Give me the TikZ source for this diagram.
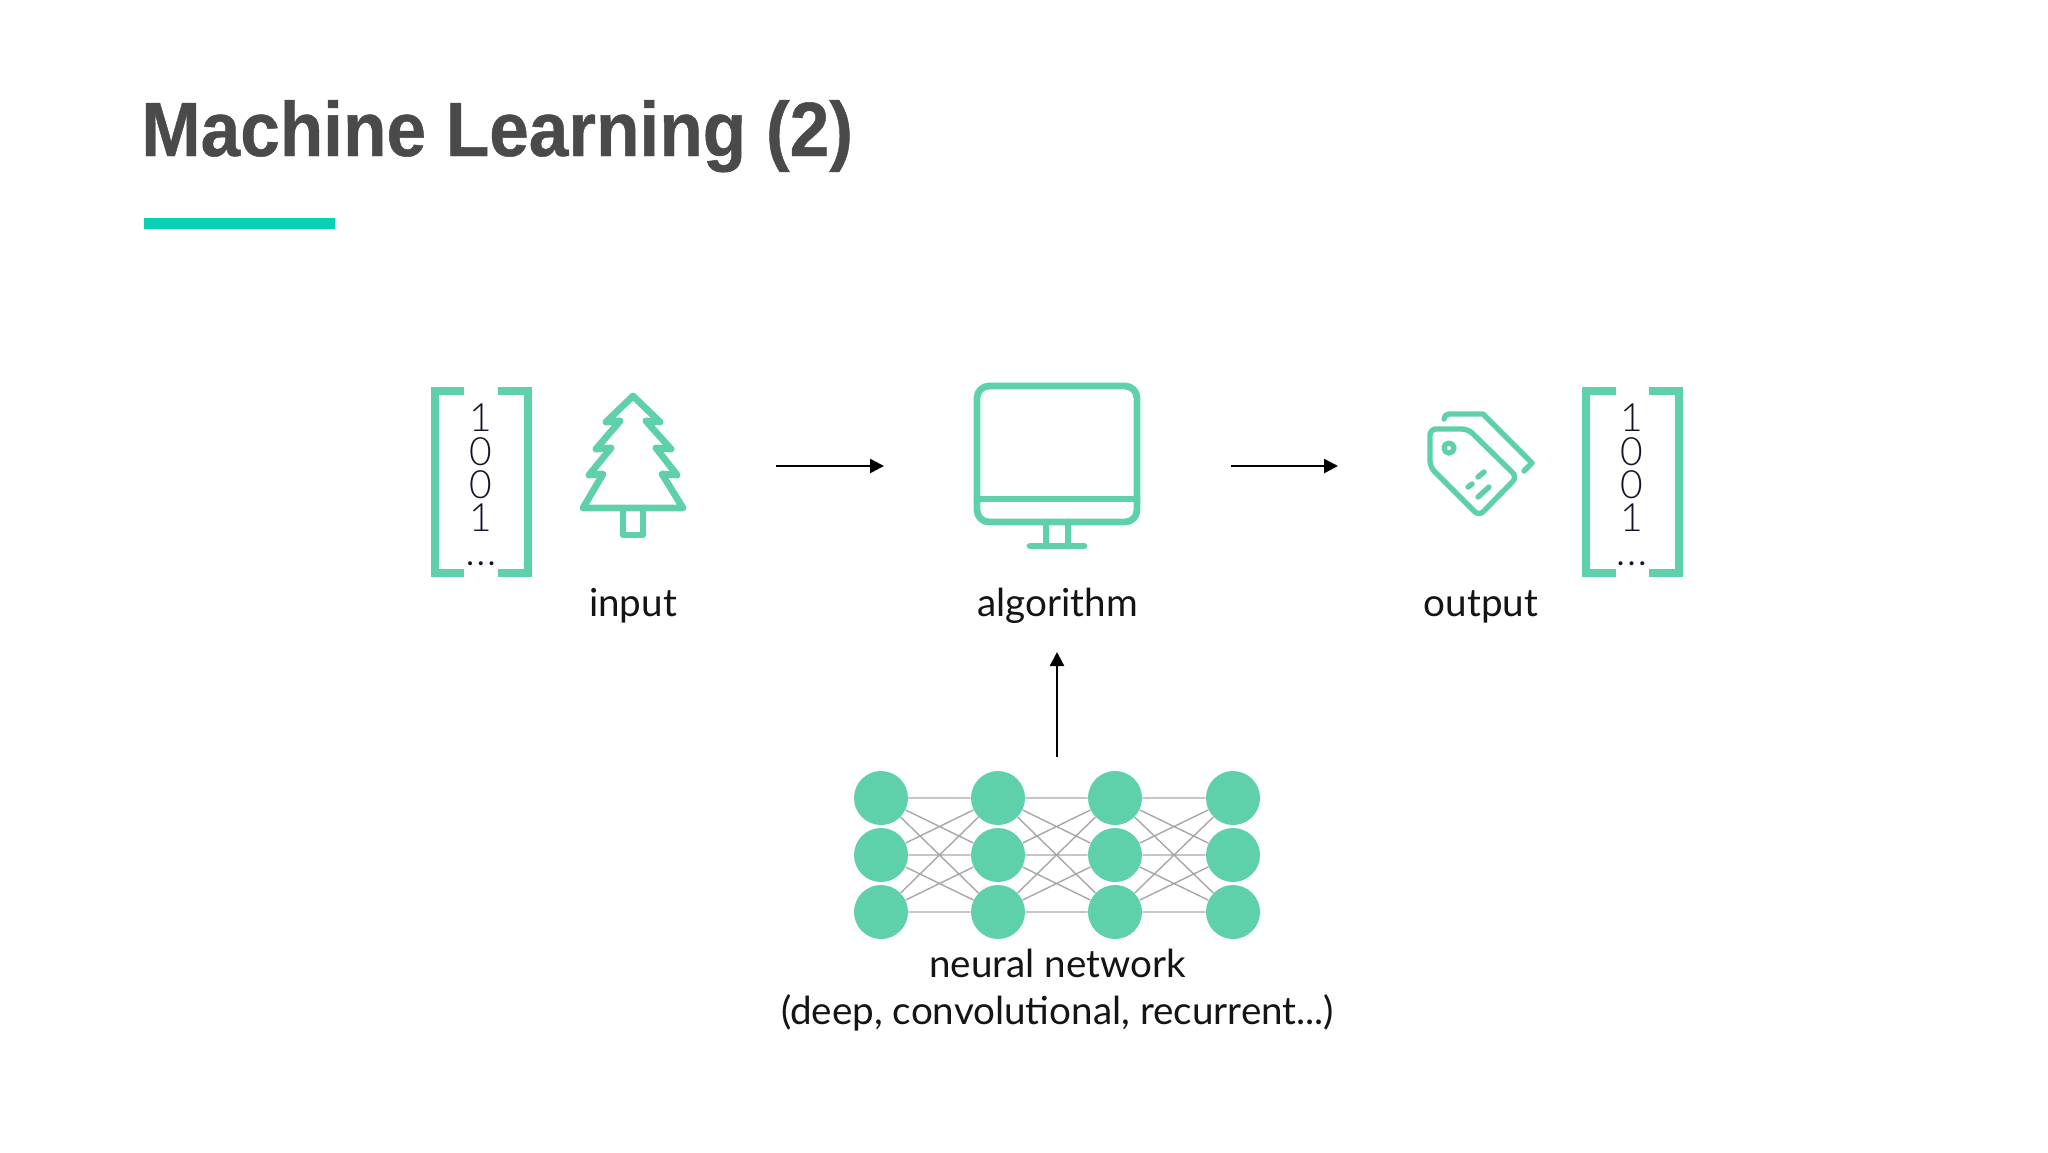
\documentclass[tikz,border=0pt]{standalone}
\usepackage{fontspec}
\setmainfont{Lato}
\newfontfamily\titlefont[FakeStretch=0.924,FakeBold=0.6]{Liberation Sans Bold}
\newfontfamily\digitfont{Lato Light}
\usetikzlibrary{arrows.meta}
\tikzset{
    icon/.style={draw={rgb, 255:red, 94; green, 208; blue, 170}, line width=3.4pt, line join=round, line cap=round},
    thinicon/.style={icon, line width=2.7pt},
    bracket/.style={draw={rgb, 255:red, 94; green, 208; blue, 170}, line width=4pt, line join=miter},
    neuron/.style={circle, fill={rgb, 255:red, 94; green, 208; blue, 170}, minimum size=27pt, inner sep=0pt},
    netedge/.style={draw={rgb, 255:red, 170; green, 166; blue, 168}, line width=0.7pt},
    flow/.style={draw=black, line width=1.2pt, -{Triangle[length=7pt,width=7pt]}},
    label/.style={font=\fontsize{19.3}{22}\selectfont, text={rgb, 255:red, 20; green, 20; blue, 20}, anchor=base},
    digits/.style={font=\digitfont\fontsize{19.5}{16.7}\selectfont, align=center, text={rgb, 255:red, 20; green, 20; blue, 40}, inner sep=0pt},
    dotrow/.style={font=\fontsize{16}{16}\selectfont, text={rgb, 255:red, 20; green, 20; blue, 40}, inner sep=0pt, anchor=base},
}
\begin{document}
\begin{tikzpicture}[x=0.5pt,y=0.5pt,yscale=-1,xscale=1]
    \useasboundingbox (0,0) rectangle (2048,1152);
    % title
    \node (title) [anchor=base west, inner sep=0pt, font=\titlefont\fontsize{38.5}{40}\selectfont, text={rgb, 255:red, 74; green, 74; blue, 74}] at (141,156) {Machine Learning (2)};
    \fill [fill={rgb, 255:red, 6; green, 209; blue, 178}] (144,218) rectangle (335,229);
    % input matrix
    \draw [bracket] (464,391) -- (435,391) -- (435,573) -- (464,573);
    \draw [bracket] (498,391) -- (528,391) -- (528,573) -- (498,573);
    \node (indigits) [digits] at (481,468) {1\\0\\0\\1};
    \node (indots) [dotrow] at (481,565) {.\hspace{1.6pt}.\hspace{1.6pt}.};
    % tree
    \draw [icon] (633,396) -- (660,422) -- (646,421) -- (671,449) -- (656,448) -- (677,475) -- (662,474) -- (683,508) -- (583,508) -- (603,474) -- (589,475) -- (611,448) -- (596,449) -- (620,421) -- (606,422) -- cycle;
    \draw [icon] (623,510) -- (623,535) -- (643,535) -- (643,510);
    \node (input) [label] at (633,616) {input};
    % monitor
    \draw [icon, rounded corners=6pt] (977,386) rectangle (1137,522);
    \draw [icon] (977,499) -- (1137,499);
    \draw [icon] (1046,522) -- (1046,546) (1068,522) -- (1068,546) (1030,546) -- (1084,546);
    \node (algorithm) [label] at (1057.5,616) {algorithm};
    % tags
    \draw [thinicon, rounded corners=3pt] (1430,467) -- (1430,429) -- (1468,429) -- (1517,477) -- (1479,516) -- cycle;
    \draw [thinicon] (1449,448) circle (5);
    \draw [thinicon] (1478,477) -- (1484,472) (1468,487) -- (1472,484) (1478,497) -- (1489,487);
    \draw [thinicon] (1444,419) .. controls (1444,416) and (1446,414) .. (1449,414) -- (1483,414) -- (1532,463) -- (1524,471);
    \node (output) [label] at (1481,616) {output};
    % output matrix
    \draw [bracket] (1616,391) -- (1586,391) -- (1586,573) -- (1616,573);
    \draw [bracket] (1649,391) -- (1679,391) -- (1679,573) -- (1649,573);
    \node (outdigits) [digits] at (1631.5,468) {1\\0\\0\\1};
    \node (outdots) [dotrow] at (1631.5,565) {.\hspace{1.6pt}.\hspace{1.6pt}.};
    % arrows
    \coordinate (a1) at (776,466); \coordinate (a2) at (884,466);
    \coordinate (b1) at (1231,466); \coordinate (b2) at (1338,466);
    \coordinate (c1) at (1057,757); \coordinate (c2) at (1057,652);
    \draw [flow] (a1) -- (a2);
    \draw [flow] (b1) -- (b2);
    \draw [flow] (c1) -- (c2);
    % network
    \node (n11) [neuron] at (881,798) {}; \node (n12) [neuron] at (881,855) {}; \node (n13) [neuron] at (881,912) {};
    \node (n21) [neuron] at (998,798) {}; \node (n22) [neuron] at (998,855) {}; \node (n23) [neuron] at (998,912) {};
    \node (n31) [neuron] at (1115,798) {}; \node (n32) [neuron] at (1115,855) {}; \node (n33) [neuron] at (1115,912) {};
    \node (n41) [neuron] at (1233,798) {}; \node (n42) [neuron] at (1233,855) {}; \node (n43) [neuron] at (1233,912) {};
    \draw [netedge] (n11) -- (n21) (n11) -- (n22) (n11) -- (n23) (n12) -- (n21) (n12) -- (n22) (n12) -- (n23) (n13) -- (n21) (n13) -- (n22) (n13) -- (n23);
    \draw [netedge] (n21) -- (n31) (n21) -- (n32) (n21) -- (n33) (n22) -- (n31) (n22) -- (n32) (n22) -- (n33) (n23) -- (n31) (n23) -- (n32) (n23) -- (n33);
    \draw [netedge] (n31) -- (n41) (n31) -- (n42) (n31) -- (n43) (n32) -- (n41) (n32) -- (n42) (n32) -- (n43) (n33) -- (n41) (n33) -- (n42) (n33) -- (n43);
    \node (nettext) [label] at (1057.5,977) {neural network};
    \node (nettext2) [label] at (1057.5,1024) {(deep, convolutional, recurrent...)};
\end{tikzpicture}
\end{document}
